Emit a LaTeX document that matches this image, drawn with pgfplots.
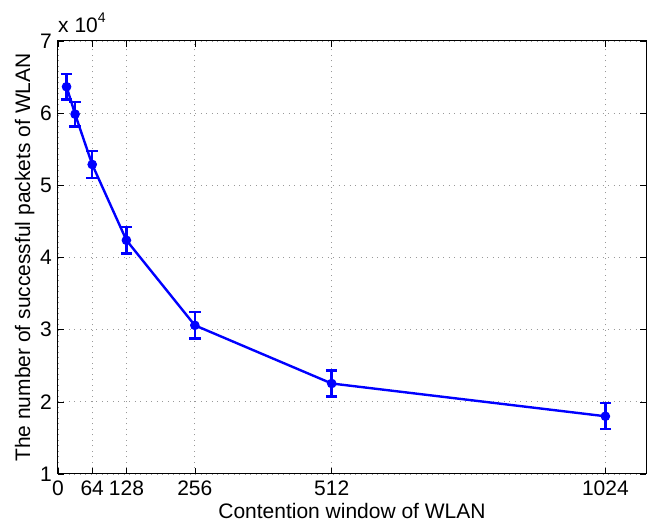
\documentclass[border=0pt]{standalone}
\usepackage{pgfplots}
\pgfplotsset{compat=1.18}
\usepackage{fontspec}
\setmainfont{Liberation Sans}

\definecolor{mblue}{RGB}{0,0,255}

\begin{document}
\begin{tikzpicture}[font=\fontsize{21}{25}\selectfont]
\useasboundingbox (-58pt,-48pt) rectangle (591pt,474pt);
\begin{axis}[
  at={(0pt,0pt)}, anchor=south west,
  scale only axis, width=588pt, height=433pt,
  xmin=0, xmax=1100, ymin=10000, ymax=70000,
  xtick={0,64,128,256,512,1024},
  xticklabels={0,64,128,256,512,1024},
  ytick={10000,20000,30000,40000,50000,60000,70000},
  yticklabels={1,2,3,4,5,6,7},
  scaled y ticks=false,
  /pgf/number format/assume math mode=true,
  tick align=inside, major tick length=6pt,
  xtick pos=both, ytick pos=both,
  tick style={black, line width=0.6pt},
  axis line style={black, line width=1pt},
  grid=major,
  major grid style={gray!80, line width=0.8pt, dash pattern=on 1pt off 4.5pt},
  xticklabel style={inner sep=0pt, yshift=-7pt},
  yticklabel style={inner sep=0pt, xshift=-6pt},
  xlabel={Contention window of WLAN},
  ylabel={The number of successful packets of WLAN},
  xlabel style={at={(axis description cs:0.5,-0.1039)}, anchor=base},
  ylabel style={at={(axis description cs:-0.0476,0.5)}, anchor=base},
]
\addplot+[mblue, line width=2.4pt, mark=*, mark size=4.3pt,
  mark options={fill=mblue, draw=mblue, solid, line width=1pt},
  error bars/.cd, y dir=both, y explicit,
  error bar style={line width=2.4pt, mblue},
  error mark options={rotate=90, mark size=5.8pt, line width=2.4pt, mblue}]
  coordinates {
  (16,63660)   +- (0,1780)
  (32,59860)   +- (0,1700)
  (64,52890)   +- (0,1870)
  (128,42390)  +- (0,1850)
  (256,30600)  +- (0,1850)
  (512,22540)  +- (0,1800)
  (1024,18000) +- (0,1800)
  };
\end{axis}
% exponent of the y axis
\node[anchor=base west, inner sep=0pt] at (0pt,441pt)
  {x 10\raisebox{0.5em}{\fontsize{14}{14}\selectfont 4}};
\end{tikzpicture}
\end{document}
